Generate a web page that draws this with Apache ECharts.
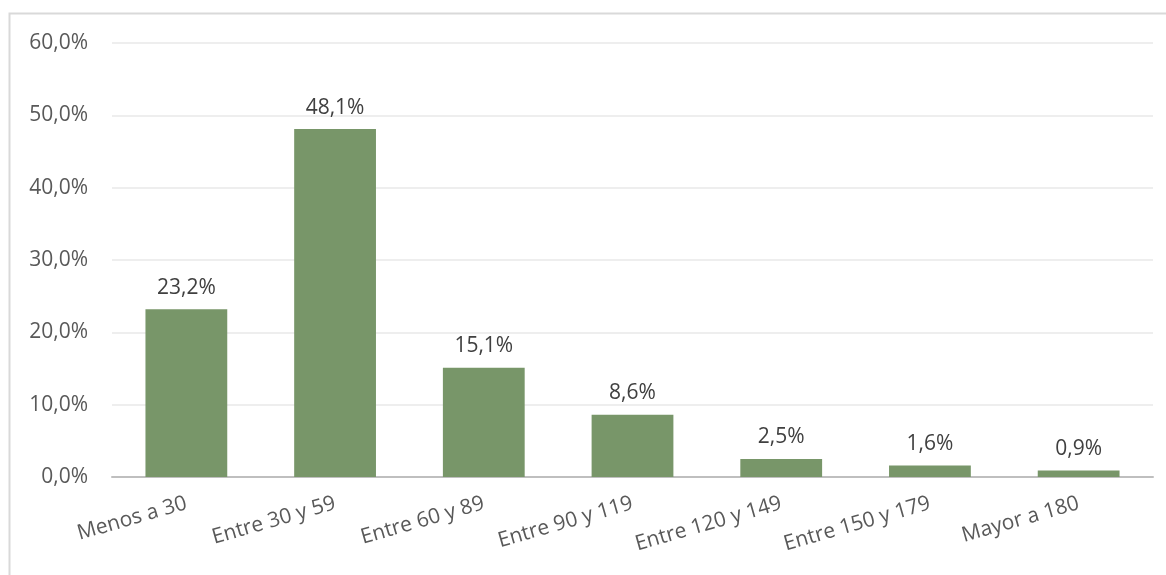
<!DOCTYPE html>
<html>
<head>
<meta charset="utf-8">
<script src="https://cdn.jsdelivr.net/npm/echarts@6/dist/echarts.min.js"></script>
<style>
html,body{margin:0;padding:0;background:#fff;}
#c{width:1166px;height:575px;}
</style>
</head>
<body>
<div id="c"></div>
<script>
var categories = ['Menos a 30','Entre 30 y 59','Entre 60 y 89','Entre 90 y 119','Entre 120 y 149','Entre 150 y 179','Mayor a 180'];
var values = [23.2, 48.1, 15.1, 8.6, 2.5, 1.6, 0.9];
var yTicks = [0, 10, 20, 30, 40, 50, 60];

function pct(v){ return v.toFixed(1).replace('.', ',') + '%'; }

var chart = echarts.init(document.getElementById('c'));
var font = '"Open Sans", sans-serif';
chart.setOption({
  animation: false,
  graphic: [{
    type: 'rect',
    shape: {x: 9.5, y: 13.5, width: 1300, height: 700},
    style: {fill: 'none', stroke: '#d9d9d9', lineWidth: 2},
    silent: true, z: -1
  }],
  grid: {left: 112, right: 13, top: 43, bottom: 98, containLabel: false},
  xAxis: {
    type: 'category',
    data: categories,
    axisLine: {show: true, lineStyle: {color: '#bfbfbf', width: 2}},
    axisTick: {show: false},
    axisLabel: {rotate: 16, margin: 26, color: '#595959', fontSize: 21, fontFamily: font, interval: 0}
  },
  yAxis: {
    type: 'value',
    min: yTicks[0], max: yTicks[yTicks.length-1], interval: 10,
    axisLine: {show: false},
    axisTick: {show: false},
    axisLabel: {formatter: pct, color: '#595959', fontSize: 21, fontFamily: font, margin: 24},
    splitLine: {lineStyle: {color: '#eeeeee', width: 2}}
  },
  series: [{
    type: 'bar',
    data: values,
    barWidth: '55%',
    itemStyle: {color: '#789669'},
    label: {show: true, position: 'top', distance: 11, formatter: function(p){ return pct(p.value); }, color: '#404040', fontSize: 21, fontFamily: font}
  }]
});
</script>
</body>
</html>
